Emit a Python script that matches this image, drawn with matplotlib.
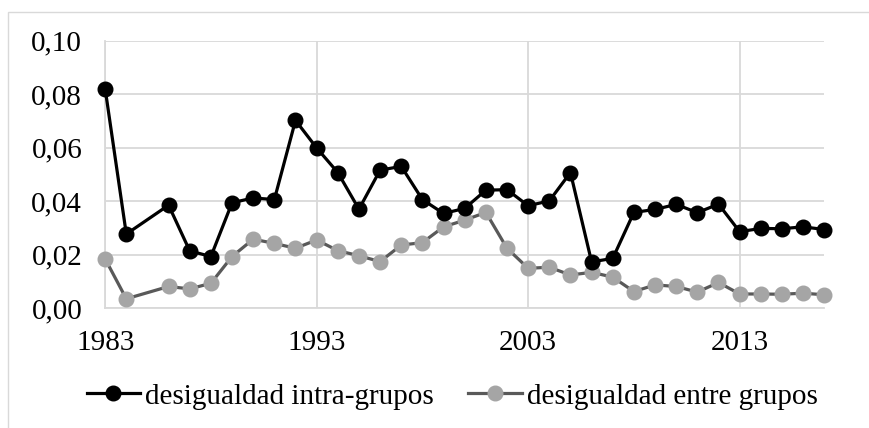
import matplotlib
matplotlib.use("Agg")
import matplotlib.pyplot as plt
from matplotlib.patches import Rectangle

# Years of the series (1985 is not in the data)
years = [1983, 1984, 1986, 1987, 1988, 1989, 1990, 1991, 1992, 1993, 1994,
         1995, 1996, 1997, 1998, 1999, 2000, 2001, 2002, 2003, 2004, 2005,
         2006, 2007, 2008, 2009, 2010, 2011, 2012, 2013, 2014, 2015, 2016, 2017]

# Inequality within groups
intraGrupos = [0.082, 0.0277, 0.0385, 0.0214, 0.0193, 0.0394, 0.0412, 0.0406, 0.0702, 0.0599, 0.0507,
               0.0370, 0.0516, 0.0530, 0.0406, 0.0354, 0.0373, 0.0441, 0.0443, 0.0383, 0.0401, 0.0507,
               0.0173, 0.0186, 0.0358, 0.0369, 0.0388, 0.0357, 0.0389, 0.0286, 0.0298, 0.0297, 0.0304, 0.0294]

# Inequality between groups
entreGrupos = [0.0184, 0.0035, 0.0081, 0.0072, 0.0093, 0.0193, 0.0258, 0.0242, 0.0224, 0.0255, 0.0215,
               0.0196, 0.0174, 0.0236, 0.0245, 0.0304, 0.0329, 0.0358, 0.0224, 0.0149, 0.0153, 0.0124,
               0.0134, 0.0116, 0.0062, 0.0087, 0.0081, 0.0060, 0.0096, 0.0053, 0.0053, 0.0052, 0.0056, 0.0050]

xTicks = [1983, 1993, 2003, 2013]
yTicks = [0.00, 0.02, 0.04, 0.06, 0.08, 0.10]
seriesNames = ["desigualdad intra-grupos", "desigualdad entre grupos"]

plt.rcParams["font.family"] = ["Liberation Serif", "DejaVu Serif"]
gridColor = "#D9D9D9"

fig = plt.figure(figsize=(8.69, 4.28), dpi=100)
ax = fig.add_axes([0.121, 0.280, 0.8275, 0.625])

ax.plot(years, intraGrupos, color="black", linewidth=2.3, marker="o",
        markersize=10.5, markerfacecolor="black", markeredgecolor="black",
        label=seriesNames[0], zorder=4, clip_on=False)
ax.plot(years, entreGrupos, color="#595959", linewidth=2.3, marker="o",
        markersize=10.5, markerfacecolor="#A5A5A5", markeredgecolor="#A5A5A5",
        label=seriesNames[1], zorder=3, clip_on=False)

# Axes and grid
ax.set_xlim(1983, 2017)
ax.set_ylim(0, 0.10)
ax.set_xticks(xTicks)
ax.set_yticks(yTicks)
ax.set_yticklabels([f"{v:.2f}".replace(".", ",") for v in yTicks])
ax.grid(True, color=gridColor, linewidth=1.3)
ax.set_axisbelow(True)
for side in ["top", "right"]:
    ax.spines[side].set_visible(False)
for side in ["left", "bottom"]:
    ax.spines[side].set_color(gridColor)
    ax.spines[side].set_linewidth(1.3)
ax.tick_params(axis="both", length=0, labelsize=21)
ax.tick_params(axis="x", pad=16)
ax.tick_params(axis="y", pad=16.5)

# Legend under the plot
fig.legend(loc="center", bbox_to_anchor=(452 / 869, 0.074), ncol=2, frameon=False,
           fontsize=21, handlelength=1.85, handletextpad=0.17, columnspacing=1.15,
           borderpad=0, borderaxespad=0)

# Chart border
fig.add_artist(Rectangle((8 / 869, -0.05), 1.0, (428 - 12) / 428 + 0.05,
                         transform=fig.transFigure, fill=False,
                         edgecolor=gridColor, linewidth=1))

fig.savefig("out.png", dpi=100)
